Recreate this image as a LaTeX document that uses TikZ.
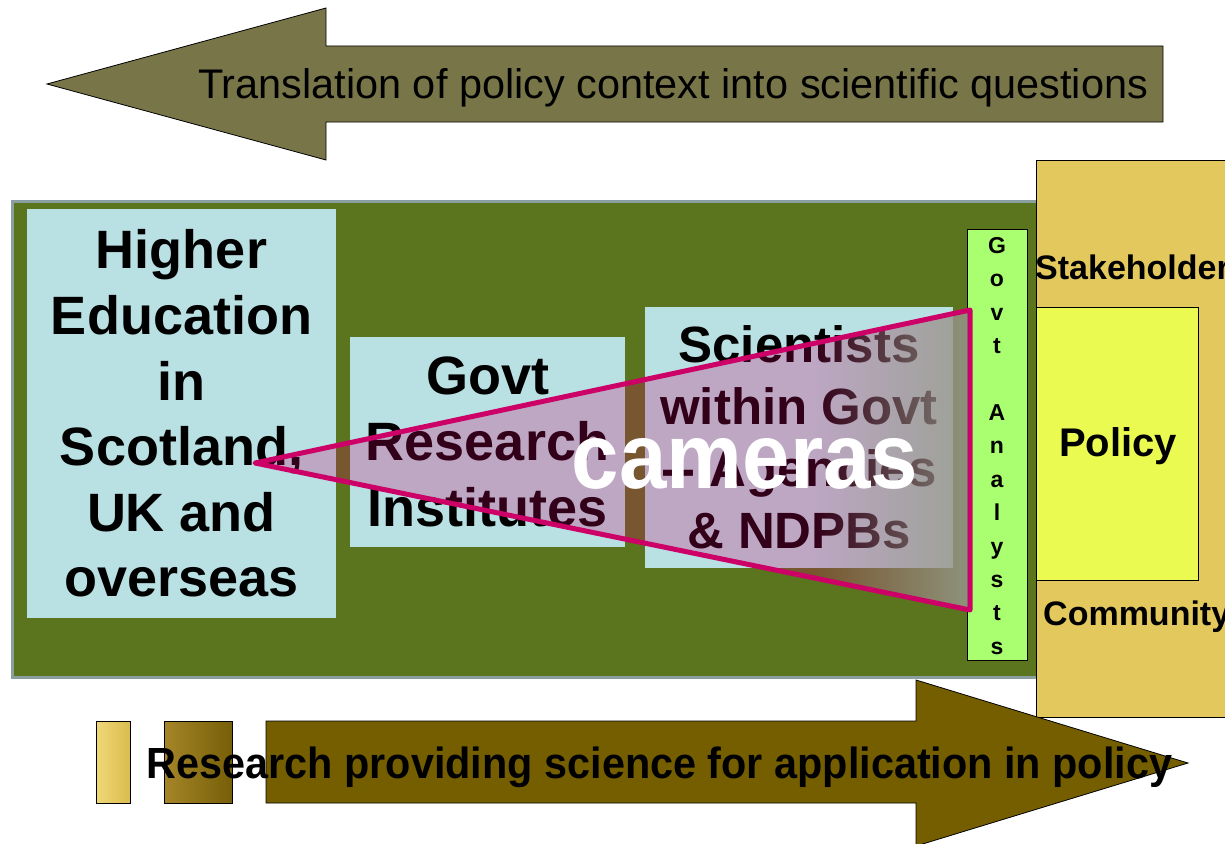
\documentclass[tikz,border=0pt]{standalone}
\usepackage{fontspec}
\setmainfont{Liberation Sans}
\usetikzlibrary{fadings}
\definecolor{arrowtop}{RGB}{120,118,72}
\definecolor{arrowbot}{RGB}{117,94,0}
\definecolor{bggreen}{RGB}{91,116,30}
\definecolor{bgborder}{RGB}{138,160,160}
\definecolor{lightblue}{RGB}{185,224,227}
\definecolor{analystgreen}{RGB}{170,255,112}
\definecolor{stakeyellow}{RGB}{227,200,94}
\definecolor{policyyellow}{RGB}{235,250,80}
\definecolor{cammag}{RGB}{204,0,102}
\definecolor{camgray}{RGB}{148,160,140}
\definecolor{goldA}{RGB}{240,216,120}
\definecolor{goldB}{RGB}{218,188,78}
\definecolor{goldC}{RGB}{165,133,40}
\definecolor{goldD}{RGB}{118,95,8}
\tikzfading[name=camfadein, left color=transparent!100, right color=transparent!0]
\begin{document}
\begin{tikzpicture}[x=1pt,y=-1pt,
  bluebox/.style={fill=lightblue, inner sep=0pt, align=center, text=black},
  plainbox/.style={draw=black, line width=0.8pt, inner sep=0pt},
  bigtext/.style={font=\bfseries\fontsize{54}{65.6}\selectfont},
  arrowshape/.style={draw=black, line width=0.8pt}
]
\useasboundingbox (0,0) rectangle (1225,843);
\clip (0,0) rectangle (1225,843);

% top arrow
\path[arrowshape, fill=arrowtop] (47,84) -- (326,8) -- (326,46) -- (1163,46) -- (1163,122) -- (326,122) -- (326,160) -- cycle;
\node[inner sep=0pt, anchor=base] (toptext) at (673,98) {\resizebox{950pt}{30pt}{Translation of policy context into scientific questions}};

% green background
\draw[fill=bggreen, draw=bgborder, line width=3pt] (12.5,201.5) rectangle (1045,677.5);

% stakeholder area
\node[plainbox, fill=stakeyellow, minimum width=210pt, minimum height=557pt, anchor=north west] (stake) at (1036,160) {};
\node[plainbox, fill=policyyellow, minimum width=162pt, minimum height=273pt, anchor=north west] (policy) at (1036,307) {};
\node[font=\bfseries\fontsize{40}{48}\selectfont, inner sep=0pt] (policytext) at (1118,446) {Policy};
\node[font=\bfseries\fontsize{34}{40}\selectfont, inner sep=0pt, anchor=base west] (staketext) at (1035,279) {Stakeholder};
\node[font=\bfseries\fontsize{34}{40}\selectfont, inner sep=0pt, anchor=base west] (commtext) at (1043,625) {Community};

% blue boxes
\node[bluebox, bigtext, minimum width=309pt, minimum height=409pt] (he) at (181.5,413.5)
  {Higher\\Education\\in\\Scotland,\\UK and\\overseas};
\node[bluebox, bigtext, minimum width=275pt, minimum height=210pt] (gri) at (487.5,442)
  {Govt\\Research\\Institutes};
\node[bluebox, font=\bfseries\fontsize{51}{62}\selectfont, minimum width=308pt, minimum height=261pt] (sci) at (799,437.5)
  {Scientists\\within Govt\\-{}- Agencies\\\& NDPBs};

% analysts strip
\node[plainbox, fill=analystgreen, minimum width=60pt, minimum height=431pt] (analysts) at (997,444.5) {};
\node[font=\bfseries\fontsize{23}{33.4}\selectfont, align=center, inner sep=0pt] (analyststext) at (997,446)
  {G\\o\\v\\t\\[33.4pt]A\\n\\a\\l\\y\\s\\t\\s};

% camera triangle
\coordinate (camtip) at (255,463);
\coordinate (camtop) at (970,310);
\coordinate (cambot) at (970,610);
\fill[cammag, fill opacity=0.25] (camtip) -- (camtop) -- (cambot) -- cycle;
\begin{scope}
  \clip (camtip) -- (camtop) -- (cambot) -- cycle;
  \fill[camgray, fill opacity=0.85, path fading=camfadein] (815,300) rectangle (975,620);
\end{scope}
\draw[cammag, line width=5pt, line join=round] (camtip) -- (camtop) -- (cambot) -- cycle;
\node[text=white, inner sep=0pt, anchor=base] (cameras) at (745,488) {\bfseries\resizebox{346pt}{50pt}{cameras}};

% bottom arrow and small bars
\node[plainbox, left color=goldA, right color=goldB, minimum width=34pt, minimum height=82pt, anchor=north west] (bar1) at (96,721) {};
\node[plainbox, left color=goldC, right color=goldD, minimum width=68pt, minimum height=82pt, anchor=north west] (bar2) at (164,721) {};
\path[arrowshape, fill=arrowbot] (266,721) -- (916,721) -- (916,680) -- (1188,763) -- (916,846) -- (916,803) -- (266,803) -- cycle;
\node[inner sep=0pt, anchor=base] (bottext) at (659.5,778) {\bfseries\resizebox{1025pt}{31.6pt}{Research providing science for application in policy}};
\end{tikzpicture}
\end{document}
